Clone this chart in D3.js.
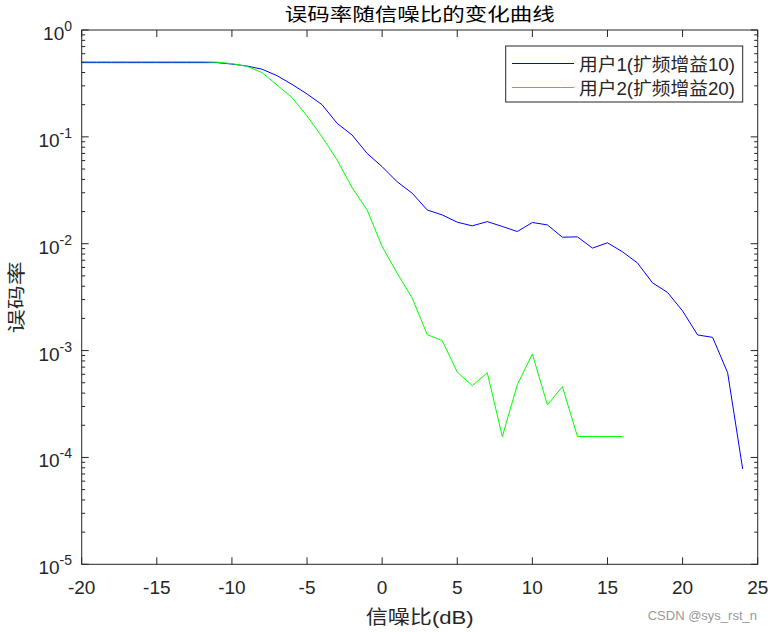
<!DOCTYPE html>
<html>
<head>
<meta charset="utf-8">
<script src="https://cdn.jsdelivr.net/npm/d3@7"></script>
<style>
  body { margin: 0; background: #fff; }
  svg { display: block; }
</style>
</head>
<body>
<div id="chart"></div>
<script>
// 数据：信噪比与误码率
const snr = d3.range(-20, 25);
const ber1 = [0.495, 0.495, 0.495, 0.495, 0.495, 0.495, 0.495, 0.495, 0.495, 0.495,
  0.48, 0.46, 0.43, 0.374, 0.31, 0.252, 0.2, 0.134, 0.104, 0.070,
  0.0526, 0.038, 0.0297, 0.0207, 0.0186, 0.0159, 0.0147, 0.0161, 0.0145, 0.0130,
  0.0158, 0.0150, 0.0115, 0.0116, 0.0091, 0.0102, 0.0084, 0.0066, 0.0043, 0.0035,
  0.00235, 0.0014, 0.00133, 0.00062, 0.000078];
const ber2 = [0.505, 0.505, 0.505, 0.505, 0.505, 0.505, 0.505, 0.505, 0.505, 0.50,
  0.484, 0.457, 0.40, 0.306, 0.233, 0.157, 0.100, 0.0608, 0.0335, 0.0207,
  0.0094, 0.0053, 0.0031, 0.00141, 0.00124, 0.00063, 0.00047, 0.00062, 0.000157, 0.00048,
  0.00093, 0.00031, 0.00046, 0.000157, 0.000157, 0.000157, 0.000157];
const xTicks = [-20, -15, -10, -5, 0, 5, 10, 15, 20, 25];
const yDecades = [0, -1, -2, -3, -4, -5];
const legendLabels = ["用户1(扩频增益10)", "用户2(扩频增益20)"];
const colors = ["#0000ff", "#00ff00"];

const W = 772, H = 632;
const m = {left: 81.7, right: 772 - 757.7, top: 30, bottom: 632 - 564.3};

const svg = d3.select("#chart").append("svg")
  .attr("width", W).attr("height", H);

const x = d3.scaleLinear().domain([-20, 25]).range([m.left, W - m.right]);
const y = d3.scaleLog().domain([1e-5, 1]).range([H - m.bottom, m.top]);

const latin = "Liberation Sans, Arial, sans-serif";
const mixed = "'Liberation Sans', 'Noto Sans CJK SC', sans-serif";

// 刻度
const minor = [];
for (let e = -5; e < 0; e++) for (let k = 2; k <= 9; k++) minor.push(k * Math.pow(10, e));

const g = svg.append("g");
const x0 = x.range()[0], x1 = x.range()[1], y0 = y.range()[0], y1 = y.range()[1];

xTicks.forEach(t => {
  g.append("line").attr("x1", x(t)).attr("x2", x(t)).attr("y1", y0).attr("y2", y0 - 7)
    .attr("stroke", "#262626");
  g.append("line").attr("x1", x(t)).attr("x2", x(t)).attr("y1", y1).attr("y2", y1 + 7)
    .attr("stroke", "#262626");
  g.append("text").attr("x", x(t)).attr("y", 594)
    .attr("text-anchor", "middle").attr("font-family", latin).attr("font-size", 19)
    .attr("fill", "#262626").text(t);
});

yDecades.forEach(e => {
  const v = Math.pow(10, e);
  g.append("line").attr("x1", x0).attr("x2", x0 + 7).attr("y1", y(v)).attr("y2", y(v))
    .attr("stroke", "#262626");
  g.append("line").attr("x1", x1).attr("x2", x1 - 7).attr("y1", y(v)).attr("y2", y(v))
    .attr("stroke", "#262626");
  const t = g.append("text").attr("x", 72).attr("y", y(v) + 10)
    .attr("text-anchor", "end").attr("font-family", latin).attr("font-size", 19)
    .attr("fill", "#262626");
  t.append("tspan").text("10");
  t.append("tspan").attr("dy", -9).attr("font-size", 14).text(e);
});

minor.forEach(v => {
  g.append("line").attr("x1", x0).attr("x2", x0 + 3.5).attr("y1", y(v)).attr("y2", y(v))
    .attr("stroke", "#262626");
  g.append("line").attr("x1", x1).attr("x2", x1 - 3.5).attr("y1", y(v)).attr("y2", y(v))
    .attr("stroke", "#262626");
});

// 曲线
const line = d3.line().x(d => x(d[0])).y(d => y(d[1]));
[ber1, ber2].forEach((s, i) => {
  svg.append("path")
    .datum(s.map((v, j) => [snr[j], v]))
    .attr("d", line)
    .attr("fill", "none")
    .attr("stroke", colors[i])
    .attr("stroke-width", 1);
});

// 边框
svg.append("rect").attr("x", x0).attr("y", y1).attr("width", x1 - x0).attr("height", y0 - y1)
  .attr("fill", "none").attr("stroke", "#262626").attr("stroke-width", 1);

// 图例
const lg = svg.append("g");
lg.append("rect").attr("x", 505.7).attr("y", 46).attr("width", 237).attr("height", 56)
  .attr("fill", "#fff").attr("stroke", "#262626").attr("stroke-width", 1);
legendLabels.forEach((s, i) => {
  const yy = 63.5 + i * 24;
  lg.append("line").attr("x1", 512).attr("x2", 574).attr("y1", yy).attr("y2", yy)
    .attr("stroke", colors[i]).attr("stroke-width", 1);
  lg.append("text").attr("x", 579).attr("y", yy + 7)
    .attr("font-family", mixed).attr("font-size", 18).attr("fill", "#262626")
    .attr("textLength", 156).attr("lengthAdjust", "spacingAndGlyphs").text(s);
});

// 标题与轴标签
svg.append("text").attr("x", (x0 + x1) / 2).attr("y", 21)
  .attr("text-anchor", "middle").attr("font-family", mixed).attr("font-size", 18)
  .attr("textLength", 270).attr("lengthAdjust", "spacingAndGlyphs")
  .attr("fill", "#000").text("误码率随信噪比的变化曲线");
svg.append("text").attr("x", (x0 + x1) / 2).attr("y", 624)
  .attr("text-anchor", "middle").attr("font-family", mixed).attr("font-size", 19)
  .attr("textLength", 108).attr("lengthAdjust", "spacingAndGlyphs")
  .attr("fill", "#262626").text("信噪比(dB)");
svg.append("text")
  .attr("transform", `translate(23,${(y0 + y1) / 2}) rotate(-90)`)
  .attr("text-anchor", "middle").attr("font-family", mixed).attr("font-size", 18)
  .attr("textLength", 72).attr("lengthAdjust", "spacingAndGlyphs")
  .attr("fill", "#262626").text("误码率");

svg.append("text").attr("x", 757).attr("y", 620)
  .attr("text-anchor", "end").attr("font-family", latin).attr("font-size", 13)
  .attr("fill", "#999").text("CSDN @sys_rst_n");
</script>
</body>
</html>
